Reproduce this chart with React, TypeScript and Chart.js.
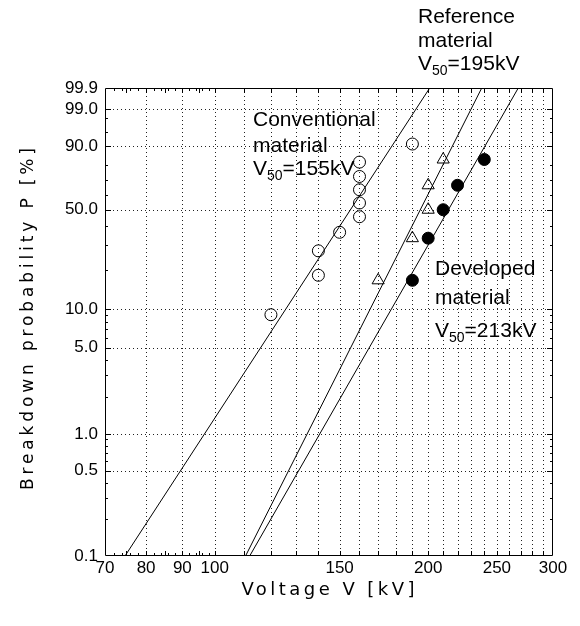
import React, { useEffect, useRef } from 'react';
import { Chart, registerables } from 'chart.js';

Chart.register(...registerables);

// ---- data ----
const yTickValues = [0.1, 0.5, 1, 5, 10, 50, 90, 99, 99.9];
const yTickLabels = ['0.1', '0.5', '1.0', '5.0', '10.0', '50.0', '90.0', '99.0', '99.9'];
const yGridValues = [0.5, 1, 5, 10, 50, 90, 99];
const yMinorTicks = [0.2, 0.3, 0.4, 0.6, 0.7, 0.8, 0.9, 2, 3, 4, 6, 7, 8, 9, 20, 30, 40, 60, 70, 80, 95, 98];
const xTickValues = [70, 80, 90, 100, 150, 200, 250, 300];
const xGridValues = [80, 90, 100, 110, 120, 130, 140, 150, 160, 170, 180, 190, 200, 210, 220, 230, 240, 250, 260, 270, 280, 290];
const xMinorTicks = [72, 74, 75, 76, 78, 82, 84, 85, 86, 88, 92, 94, 95, 96, 98];

const conventionalV = [120, 140, 140, 150, 160, 160, 160, 160, 160, 190];
const conventionalP = [9.1, 18.2, 27.3, 36.4, 45.5, 54.5, 63.6, 72.7, 81.8, 90.9];
const referenceV = [170, 190, 200, 200, 210];
const referenceP = [16.7, 33.3, 50.0, 66.7, 83.3];
const developedV = [190, 200, 210, 220, 240];
const developedP = [16.7, 33.3, 50.0, 66.7, 83.3];

const fitP = [0.1, 99.9];
const conventionalFitV = [74.7, 201];
const referenceFitV = [110.5, 238];
const developedFitV = [112, 268];

// Weibull probability transform
const wb = (p: number) => Math.log(-Math.log(1 - p / 100));
const pts = (vs: number[], ps: number[]) => vs.map((v, i) => ({ x: v, y: wb(ps[i]) }));

const LABEL_FONT = '"Liberation Sans", Arial, sans-serif';

function drawV50(ctx: CanvasRenderingContext2D, x: number, y: number, rest: string) {
  ctx.font = `21px ${LABEL_FONT}`;
  ctx.fillText('V', x, y);
  const wV = ctx.measureText('V').width;
  ctx.font = `14px ${LABEL_FONT}`;
  ctx.fillText('50', x + wV, y + 5);
  const w50 = ctx.measureText('50').width;
  ctx.font = `21px ${LABEL_FONT}`;
  ctx.fillText(rest, x + wV + w50, y);
}

function spacedText(ctx: CanvasRenderingContext2D, text: string, cx: number, cy: number, target: number, rot: number) {
  ctx.save();
  (ctx as any).letterSpacing = '0px';
  const w0 = ctx.measureText(text).width;
  const ls = Math.max(0, (target - w0) / (text.length - 1));
  (ctx as any).letterSpacing = `${ls}px`;
  ctx.translate(cx, cy);
  ctx.rotate(rot);
  ctx.textAlign = 'left';
  ctx.textBaseline = 'middle';
  ctx.fillText(text, -target / 2, 0);
  ctx.restore();
}

const framePlugin = {
  id: 'weibullFrame',
  beforeDatasetsDraw(chart: any) {
    const { ctx, chartArea } = chart;
    const { left, right, top, bottom } = chartArea;
    const x = chart.scales.x;
    const y = chart.scales.y;
    const px = (v: number) => Math.round(x.getPixelForValue(v)) + 0.5;
    const py = (p: number) => Math.round(y.getPixelForValue(wb(p))) + 0.5;
    ctx.save();
    ctx.lineWidth = 1;
    ctx.strokeStyle = '#222';
    ctx.setLineDash([1, 3]);
    ctx.beginPath();
    xGridValues.forEach((v) => {
      const X = px(v);
      ctx.moveTo(X, top);
      ctx.lineTo(X, bottom);
    });
    yGridValues.forEach((p) => {
      const Y = py(p);
      ctx.moveTo(left, Y);
      ctx.lineTo(right, Y);
    });
    ctx.stroke();
    ctx.setLineDash([]);
    ctx.strokeStyle = '#000';
    ctx.beginPath();
    // x ticks, bottom and top, pointing inward
    xGridValues.forEach((v) => {
      const X = px(v);
      ctx.moveTo(X, bottom); ctx.lineTo(X, bottom - 5);
      ctx.moveTo(X, top); ctx.lineTo(X, top + 5);
    });
    xMinorTicks.forEach((v) => {
      const X = px(v);
      const len = v % 5 === 0 ? 5 : 3;
      ctx.moveTo(X, bottom); ctx.lineTo(X, bottom - len);
      ctx.moveTo(X, top); ctx.lineTo(X, top + len);
    });
    // y ticks, left and right
    yGridValues.forEach((p) => {
      const Y = py(p);
      ctx.moveTo(left, Y); ctx.lineTo(left + 6, Y);
      ctx.moveTo(right, Y); ctx.lineTo(right - 6, Y);
    });
    yMinorTicks.forEach((p) => {
      const Y = py(p);
      ctx.moveTo(left, Y); ctx.lineTo(left + 3, Y);
      ctx.moveTo(right, Y); ctx.lineTo(right - 3, Y);
    });
    ctx.stroke();
    // frame
    ctx.beginPath();
    ctx.rect(Math.round(left) + 0.5, Math.round(top) + 0.5, Math.round(right - left) - 1, Math.round(bottom - top) - 1);
    ctx.stroke();
    ctx.restore();
  },
  afterDraw(chart: any) {
    const { ctx } = chart;
    ctx.save();
    ctx.fillStyle = '#000';
    ctx.textAlign = 'left';
    ctx.textBaseline = 'alphabetic';
    ctx.font = `21px ${LABEL_FONT}`;
    ctx.fillText('Reference', 418, 23);
    ctx.fillText('material', 418, 47);
    drawV50(ctx, 418, 70, '=195kV');
    ctx.font = `21px ${LABEL_FONT}`;
    ctx.fillText('Conventional', 253, 126);
    ctx.fillText('material', 253, 152);
    drawV50(ctx, 253, 175, '=155kV');
    ctx.font = `21px ${LABEL_FONT}`;
    ctx.fillText('Developed', 435, 275);
    ctx.fillText('material', 435, 304);
    drawV50(ctx, 435, 337, '=213kV');

    ctx.font = '18px "DejaVu Sans", sans-serif';
    spacedText(ctx, 'Voltage V [kV]', 328, 590, 173, 0);
    ctx.font = '17px "DejaVu Sans", sans-serif';
    spacedText(ctx, 'Breakdown probability P [%]', 29, 319, 342, -Math.PI / 2);
    ctx.restore();
  },
};

export default function App() {
  const ref = useRef<HTMLCanvasElement | null>(null);
  useEffect(() => {
    if (!ref.current) return;
    const fitStyle = {
      showLine: true,
      pointRadius: 0,
      borderColor: '#000',
      borderWidth: 1,
      fill: false,
    };
    const chart = new Chart(ref.current, {
      type: 'scatter',
      data: {
        datasets: [
          { label: 'Conventional fit', data: pts(conventionalFitV, fitP), ...fitStyle },
          { label: 'Reference fit', data: pts(referenceFitV, fitP), ...fitStyle },
          { label: 'Developed fit', data: pts(developedFitV, fitP), ...fitStyle },
          {
            label: 'Conventional material',
            data: pts(conventionalV, conventionalP),
            pointStyle: 'circle',
            pointRadius: 6,
            borderColor: '#000',
            backgroundColor: 'rgba(0,0,0,0)',
            borderWidth: 1,
            showLine: false,
          },
          {
            label: 'Reference material',
            data: pts(referenceV, referenceP),
            pointStyle: 'triangle',
            pointRadius: 7,
            borderColor: '#000',
            backgroundColor: 'rgba(0,0,0,0)',
            borderWidth: 1,
            showLine: false,
          },
          {
            label: 'Developed material',
            data: pts(developedV, developedP),
            pointStyle: 'circle',
            pointRadius: 6,
            borderColor: '#000',
            backgroundColor: '#000',
            borderWidth: 1,
            showLine: false,
          },
        ],
      },
      options: {
        responsive: false,
        animation: false,
        devicePixelRatio: 1,
        layout: { padding: { left: 0, top: 88, right: 27, bottom: 0 } },
        plugins: { legend: { display: false }, tooltip: { enabled: false } },
        scales: {
          x: {
            type: 'logarithmic',
            min: 70,
            max: 300,
            grid: { display: false, drawTicks: false },
            border: { display: false },
            afterBuildTicks: (s: any) => {
              s.ticks = xTickValues.map((v) => ({ value: v }));
            },
            afterFit: (s: any) => {
              s.height = 70;
            },
            ticks: {
              autoSkip: false,
              maxRotation: 0,
              minRotation: 0,
              padding: 2,
              color: '#000',
              font: { family: LABEL_FONT, size: 17 },
              callback: (v: any) => String(v),
            },
          },
          y: {
            type: 'linear',
            min: wb(0.1),
            max: wb(99.9),
            grid: { display: false, drawTicks: false },
            border: { display: false },
            afterBuildTicks: (s: any) => {
              s.ticks = yTickValues.map((p) => ({ value: wb(p) }));
            },
            afterFit: (s: any) => {
              s.width = 105;
            },
            ticks: {
              autoSkip: false,
              padding: 7,
              color: '#000',
              font: { family: LABEL_FONT, size: 17 },
              callback: (_v: any, i: number) => yTickLabels[i],
            },
          },
        },
      },
      plugins: [framePlugin],
    } as any);
    return () => chart.destroy();
  }, []);
  return (
    <div style={{ position: 'absolute', left: 0, top: 0, width: 580, height: 626, background: '#fff' }}>
      <canvas ref={ref} width={580} height={626} style={{ display: 'block' }} />
    </div>
  );
}
